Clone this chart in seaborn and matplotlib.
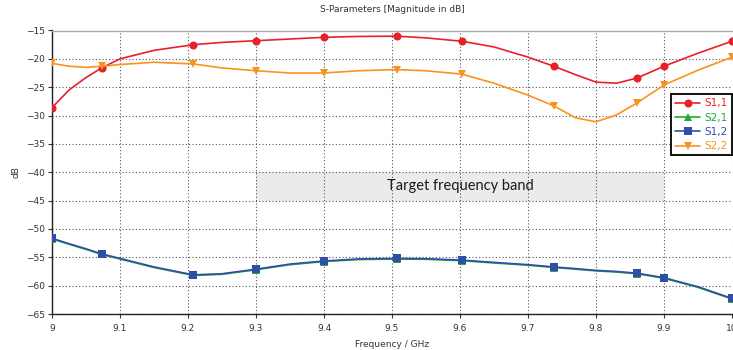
import numpy as np
import pandas as pd
import matplotlib
matplotlib.use("Agg")
import matplotlib.pyplot as plt
import seaborn as sns

# ---- data ----
freq = [9.0, 9.025, 9.05, 9.073, 9.1, 9.15, 9.208, 9.25, 9.30, 9.35, 9.40, 9.45,
        9.507, 9.55, 9.603, 9.65, 9.70, 9.738, 9.77, 9.80, 9.83, 9.86, 9.90, 9.95, 10.0]
s11 = [-28.6, -25.5, -23.3, -21.6, -20.0, -18.5, -17.5, -17.1, -16.8, -16.5, -16.2, -16.05,
       -16.0, -16.3, -16.9, -17.9, -19.7, -21.3, -22.8, -24.1, -24.3, -23.4, -21.3, -19.0, -16.9]
s22 = [-20.8, -21.3, -21.5, -21.3, -21.0, -20.6, -20.9, -21.6, -22.1, -22.5, -22.5, -22.1,
       -21.9, -22.1, -22.7, -24.3, -26.4, -28.3, -30.4, -31.1, -29.9, -27.8, -24.6, -22.0, -19.7]
s12 = [-51.65, -52.6, -53.5, -54.4, -55.2, -56.7, -58.1, -57.9, -57.1, -56.2, -55.65, -55.3,
       -55.2, -55.25, -55.5, -55.9, -56.3, -56.7, -57.0, -57.3, -57.5, -57.8, -58.6, -60.2, -62.25]
s21 = [-51.75, -52.7, -53.6, -54.5, -55.3, -56.8, -58.2, -58.0, -57.2, -56.3, -55.75, -55.4,
       -55.3, -55.35, -55.6, -56.0, -56.4, -56.8, -57.1, -57.4, -57.6, -57.9, -58.7, -60.3, -62.35]
marker_freq = [9.0, 9.073, 9.208, 9.30, 9.40, 9.507, 9.603, 9.738, 9.86, 9.90, 10.0]
series_names = ["S1,1", "S2,1", "S1,2", "S2,2"]
xticks = [9, 9.1, 9.2, 9.3, 9.4, 9.5, 9.6, 9.7, 9.8, 9.9, 10]
xticklabels = ["9", "9.1", "9.2", "9.3", "9.4", "9.5", "9.6", "9.7", "9.8", "9.9", "10"]
yticks = [-15, -20, -25, -30, -35, -40, -45, -50, -55, -60, -65]
band = (9.3, 9.9, -45, -40)
band_text = "Target frequency band"

colors = {"S1,1": "#e8202a", "S2,1": "#22a83a", "S1,2": "#2f4ea8", "S2,2": "#f7931e"}
markers = {"S1,1": "o", "S2,1": "^", "S1,2": "s", "S2,2": "v"}
values = {"S1,1": s11, "S2,1": s21, "S1,2": s12, "S2,2": s22}

sns.set_style("white")
plt.rcParams["font.family"] = ["DejaVu Sans"]

fig = plt.figure(figsize=(7.33, 3.5), dpi=100)
ax = fig.add_axes([52/733, 1-314/350, 680/733, (314-30.5)/350])

# band
ax.fill_between([band[0], band[1]], band[2], band[3], color="#ebebeb", zorder=0, linewidth=0)
ax.text((band[0]+band[1])/2, (band[2]+band[3])/2, band_text, ha="center", va="center",
        fontsize=10.5, family=["Lato", "DejaVu Sans"], color="#1a1a1a", zorder=1)

idx = [freq.index(f) for f in marker_freq]
for name in series_names:
    df = pd.DataFrame({"f": freq, "v": values[name]})
    sns.lineplot(data=df, x="f", y="v", ax=ax, color=colors[name], marker=markers[name],
                 markevery=idx, markersize=5.8, linewidth=1.2, label=name,
                 markeredgewidth=0, zorder=3, sort=False)

ax.set_xlim(9, 10)
ax.set_ylim(-65, -15)
ax.set_xticks(xticks)
ax.set_xticklabels(xticklabels)
ax.set_yticks(yticks)
ax.tick_params(axis="both", labelsize=6.5, colors="#333333", length=3, width=0.8, direction="out",
               left=True, bottom=True, pad=2)
ax.tick_params(axis="x", pad=4)
ax.grid(True, linestyle=(0, (1, 2)), color="#555555", linewidth=0.8, zorder=0.5)
ax.set_axisbelow(True)
for s in ["left", "bottom"]:
    ax.spines[s].set_color("#222222")
    ax.spines[s].set_linewidth(1.0)
ax.spines["top"].set_color("#aaaaaa")
ax.spines["top"].set_linewidth(1.0)
ax.spines["right"].set_visible(False)

ax.set_title("S-Parameters [Magnitude in dB]", fontsize=6.5, color="#333333", pad=13)
ax.set_xlabel("Frequency / GHz", fontsize=6.5, color="#333333", labelpad=5)
ax.set_ylabel("dB", fontsize=6.5, color="#333333")
ax.yaxis.set_label_coords(-0.047, 0.5)

leg = ax.legend(loc="upper right", bbox_to_anchor=(732/733, 1-94/350), bbox_transform=fig.transFigure,
                fontsize=7.5, frameon=True, fancybox=False, framealpha=1, edgecolor="#111111",
                handlelength=2.4, handletextpad=0.4, borderpad=0.4, labelspacing=0.42,
                borderaxespad=0)
leg.get_frame().set_linewidth(1.4)
for t in leg.get_texts():
    t.set_color(colors[t.get_text()])

fig.savefig("out.png", dpi=100, facecolor="white")
